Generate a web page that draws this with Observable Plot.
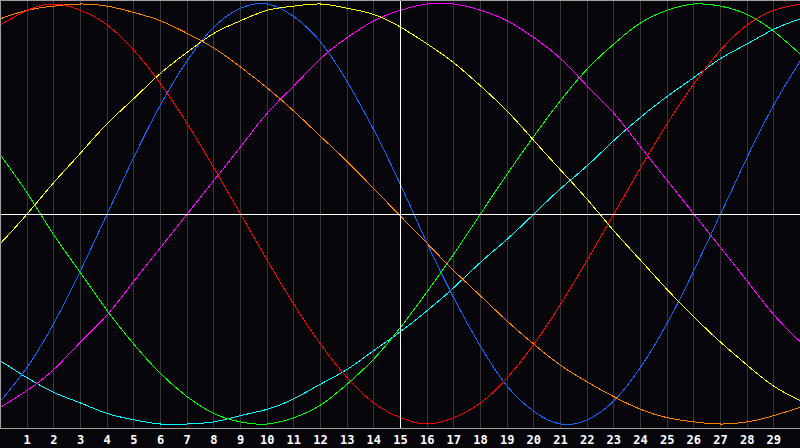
<!DOCTYPE html>
<html><head><meta charset="utf-8">
<script src="https://cdn.jsdelivr.net/npm/d3@7"></script>
<script src="https://cdn.jsdelivr.net/npm/@observablehq/plot@0.6"></script>
<style>
html,body{margin:0;padding:0;background:#05050a;overflow:hidden}
#chart svg{display:block}
</style>
</head><body><div id="chart"></div>
<script>
// day positions (0..30) at which each curve's value was read
const days = [0,1,2,3,4,5,6,7,8,9,10,11,12,13,14,15,16,17,18,19,20,21,22,23,24,25,26,27,28,29,30];
const tickDays = [1,2,3,4,5,6,7,8,9,10,11,12,13,14,15,16,17,18,19,20,21,22,23,24,25,26,27,28,29];
const today = 15;

const spiritualValues    = [-0.70,-0.78,-0.85,-0.90,-0.95,-0.98,-1.00,-1.00,-0.99,-0.96,-0.93,-0.88,-0.81,-0.74,-0.65,-0.56,-0.46,-0.35,-0.23,-0.12,0,0.12,0.23,0.35,0.46,0.56,0.65,0.74,0.81,0.88,0.93];
const intuitiveValues    = [-0.92,-0.84,-0.74,-0.61,-0.48,-0.32,-0.16,0,0.16,0.32,0.48,0.61,0.74,0.84,0.92,0.97,1.00,1.00,0.97,0.92,0.84,0.74,0.61,0.48,0.32,0.16,0,-0.16,-0.32,-0.48,-0.61];
const physicalValues     = [-0.89,-0.73,-0.52,-0.27,0,0.27,0.52,0.73,0.89,0.98,1.00,0.94,0.82,0.63,0.40,0.14,-0.14,-0.40,-0.63,-0.82,-0.94,-1.00,-0.98,-0.89,-0.73,-0.52,-0.27,0,0.27,0.52,0.73];
const intellectualValues = [0.28,0.10,-0.10,-0.28,-0.46,-0.62,-0.76,-0.87,-0.95,-0.99,-1.00,-0.97,-0.91,-0.81,-0.69,-0.54,-0.37,-0.19,0,0.19,0.37,0.54,0.69,0.81,0.91,0.97,1.00,0.99,0.95,0.87,0.76];
const aestheticValues    = [-0.14,0.00,0.15,0.29,0.43,0.55,0.67,0.77,0.86,0.92,0.97,0.99,1.00,0.98,0.95,0.89,0.81,0.72,0.61,0.49,0.35,0.21,0.07,-0.08,-0.22,-0.36,-0.49,-0.61,-0.72,-0.82,-0.89];
const awarenessValues    = [0.93,0.97,0.99,1.00,0.99,0.96,0.92,0.86,0.79,0.70,0.60,0.49,0.37,0.25,0.12,-0.01,-0.14,-0.27,-0.39,-0.51,-0.62,-0.72,-0.80,-0.87,-0.93,-0.97,-0.99,-1.00,-0.99,-0.96,-0.92];
const emotionalValues    = [0.90,0.97,1.00,0.97,0.90,0.78,0.62,0.43,0.22,0,-0.22,-0.43,-0.62,-0.78,-0.90,-0.97,-1.00,-0.97,-0.90,-0.78,-0.62,-0.43,-0.22,0,0.22,0.43,0.62,0.78,0.90,0.97,1.00];

const seriesNames  = ["Spiritual","Intuitive","Physical","Intellectual","Aesthetic","Awareness","Emotional"];
const seriesValues = [spiritualValues, intuitiveValues, physicalValues, intellectualValues, aestheticValues, awarenessValues, emotionalValues];
const seriesColors = ["#00ffff","#ff00ff","#1466ff","#00ff00","#ffff00","#ff8000","#ff0000"];

const rows = seriesNames.flatMap((name, i) =>
  days.map((d, j) => ({series: name, day: d, value: seriesValues[i][j]})));

const chart = Plot.plot({
  width: 800,
  height: 448,
  marginLeft: 0,
  marginRight: 0,
  marginTop: 0,
  marginBottom: 20,
  style: {background: "#05050a", color: "#ffffff", overflow: "visible"},
  x: {domain: [0, 30], axis: null, label: null},
  y: {domain: [-1.0214, 1.0167], axis: null, label: null},
  color: {type: "ordinal", domain: seriesNames, range: seriesColors},
  marks: [
    Plot.ruleX(tickDays, {stroke: "#363636", strokeWidth: 1, shapeRendering: "crispEdges"}),
    Plot.line(rows, {x: "day", y: "value", z: "series", stroke: "series", strokeWidth: 1,
      curve: "natural", shapeRendering: "crispEdges"}),
    Plot.ruleY([0], {stroke: "#ffffff", strokeWidth: 1, shapeRendering: "crispEdges"}),
    Plot.ruleX([today], {stroke: "#ffffff", strokeWidth: 1, shapeRendering: "crispEdges"}),
    Plot.frame({stroke: "#a0a0a0", strokeWidth: 1, shapeRendering: "crispEdges"}),
    Plot.axisX(tickDays, {tickSize: 0, tickPadding: 7, fontSize: 12, fontWeight: "bold", label: null,
      fontFamily: "DejaVu Sans Mono", fill: "#ffffff", tickFormat: d => String(d)})
  ]
});
document.getElementById("chart").appendChild(chart);
</script>
</body></html>
